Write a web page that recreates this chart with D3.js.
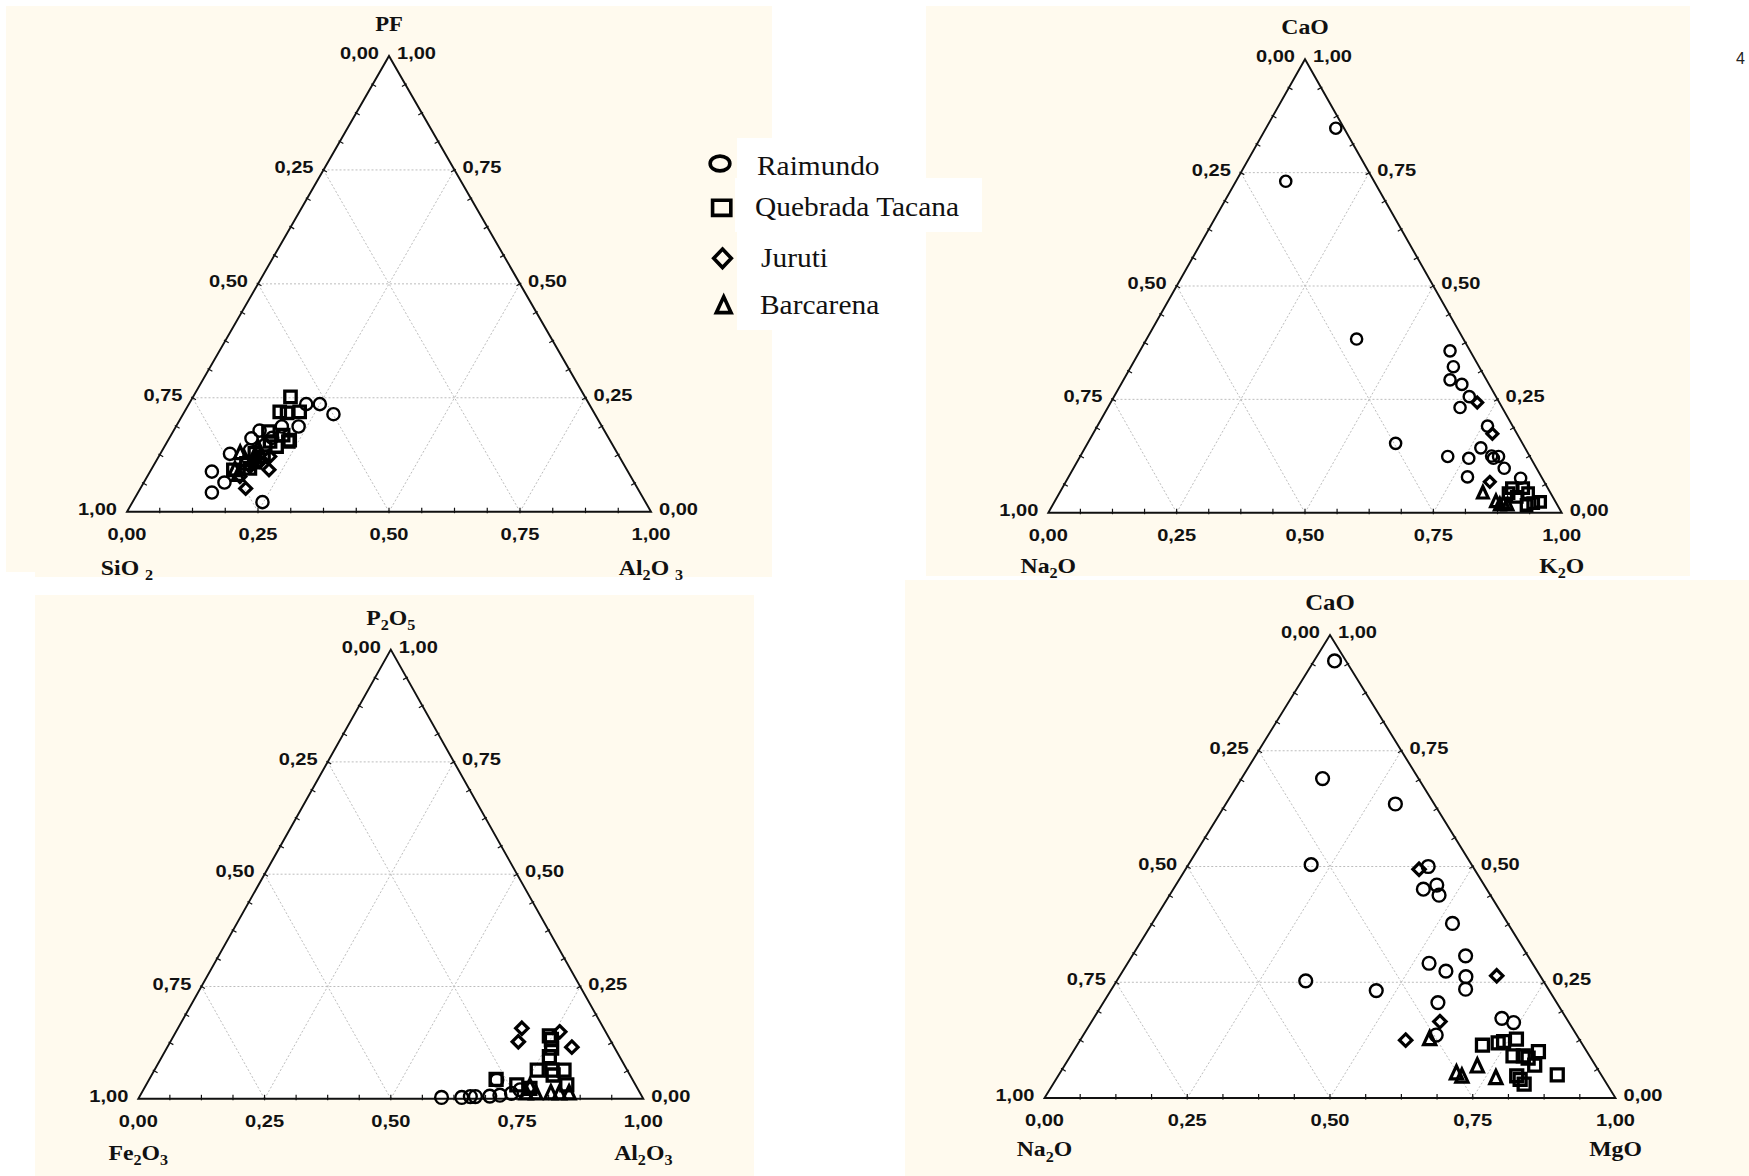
<!DOCTYPE html>
<html>
<head>
<meta charset="utf-8">
<script src="https://cdn.jsdelivr.net/npm/d3@7"></script>
<style>
  html, body { margin: 0; padding: 0; background: #ffffff; }
  svg { display: block; }
  text { white-space: pre; }
</style>
</head>
<body>
<svg id="chart" width="1749" height="1176"></svg>
<script>
// Series shown in every ternary diagram
const seriesNames = ["Raimundo", "Quebrada Tacana", "Juruti", "Barcarena"];
const tickValues = [0, 0.25, 0.5, 0.75, 1];
const gridValues = [0.25, 0.5, 0.75];

// Compositions are [left corner, right corner, top corner] fractions.

// Diagram A: SiO2 – Al2O3 – PF
const aRaimundo = [[.540,.224,.236],[.514,.250,.236],[.499,.287,.214],[.579,.234,.187],[.611,.202,.187],
  [.658,.164,.178],[.682,.157,.161],[.740,.133,.127],[.794,.118,.088],[.782,.154,.064],[.817,.141,.042],
  [.731,.248,.021],[.698,.167,.135],[.664,.190,.146],[.642,.196,.162]];
const aTacana = [[.562,.186,.252],[.599,.182,.219],[.586,.197,.217],[.561,.220,.219],[.642,.182,.176],
  [.611,.232,.157],[.615,.231,.154],[.718,.187,.095],[.751,.157,.092],[.643,.214,.143],[.679,.200,.121],
  [.701,.190,.109],[.650,.196,.154],[.618,.214,.168],[.692,.180,.128],[.719,.175,.106]];
const aJuruti = [[.683,.225,.092],[.748,.201,.051],[.746,.177,.077],[.667,.212,.121],[.716,.185,.099],[.691,.199,.110]];
const aBarcarena = [[.720,.152,.128],[.748,.160,.092],[.748,.172,.080],[.695,.184,.121],[.718,.169,.113],[.680,.181,.139]];

// Diagram B: Na2O – K2O – CaO
const bRaimundo = [[.016,.136,.848],[.172,.097,.731],[.208,.409,.383],[.247,.600,.153],[.039,.604,.357],
  [.050,.628,.322],[.071,.636,.293],[.053,.664,.283],[.052,.692,.256],[.082,.686,.232],[.049,.760,.191],
  [.086,.771,.143],[.160,.716,.124],[.121,.759,.120],[.074,.801,.125],[.061,.815,.124],[.073,.807,.120],
  [.063,.839,.098],[.144,.777,.079],[.042,.882,.076]];
const bTacana = [[.070,.876,.054],[.048,.898,.054],[.044,.913,.043],[.070,.895,.035],[.030,.946,.024],
  [.045,.934,.021],[.060,.923,.017],[.082,.875,.043]];
const bJuruti = [[.043,.714,.243],[.048,.778,.174],[.106,.826,.068]];
const bBarcarena = [[.132,.825,.043],[.116,.860,.024],[.103,.876,.021],[.097,.886,.017],[.112,.871,.017]];

// Diagram C: Fe2O3 – Al2O3 – P2O5
const cRaimundo = [[.398,.599,.003],[.358,.639,.003],[.340,.655,.005],[.330,.665,.005],[.301,.693,.006],
  [.280,.712,.008],[.255,.733,.012],[.234,.746,.020],[.269,.689,.042]];
const cTacana = [[.270,.687,.043],[.235,.734,.031],[.178,.758,.064],[.149,.787,.064],[.125,.811,.064],
  [.139,.767,.094],[.116,.752,.132],[.116,.744,.140],[.213,.764,.023],[.136,.833,.031],[.152,.795,.053],
  [.125,.762,.113]];
const cJuruti = [[.162,.681,.157],[.184,.689,.127],[.091,.760,.149],[.084,.801,.115]];
const cBarcarena = [[.226,.762,.012],[.207,.781,.012],[.177,.811,.012],[.160,.828,.012],[.141,.847,.012],[.211,.762,.027]];

// Diagram D: Na2O – MgO – CaO
const dRaimundo = [[.020,.036,.944],[.168,.142,.690],[.068,.297,.635],[.281,.215,.504],[.078,.422,.500],
  [.416,.331,.253],[.303,.465,.232],[.111,.438,.451],[.083,.457,.460],[.090,.472,.438],[.097,.526,.377],
  [.109,.584,.307],[.181,.528,.291],[.160,.566,.274],[.131,.607,.262],[.145,.620,.235],[.208,.586,.206],
  [.246,.618,.136],[.113,.715,.172],[.097,.740,.163]];
const dTacana = [[.176,.710,.114],[.146,.735,.119],[.135,.743,.122],[.110,.763,.127],[.134,.775,.091],
  [.116,.793,.091],[.085,.815,.100],[.106,.823,.071],[.149,.803,.048],[.147,.813,.040],[.145,.825,.030],
  [.077,.873,.050],[.110,.804,.086]];
const dJuruti = [[.097,.409,.494],[.076,.660,.264],[.225,.610,.165],[.305,.570,.125]];
const dBarcarena = [[.262,.611,.127],[.208,.724,.068],[.252,.695,.053],[.246,.708,.046],[.188,.769,.043]];

const cream = "#fffaee";
const svg = d3.select("#chart");

// Marker geometry (size = half extent in px)
const symCircle = { draw(ctx, r) { ctx.moveTo(r, 0); ctx.arc(0, 0, r, 0, 2 * Math.PI); } };
const symSquare = { draw(ctx, r) { ctx.rect(-r, -r, 2 * r, 2 * r); } };
const symDiamond = { draw(ctx, r) { ctx.moveTo(0, -r); ctx.lineTo(r, 0); ctx.lineTo(0, r); ctx.lineTo(-r, 0); ctx.closePath(); } };
const symTriangle = { draw(ctx, r) { ctx.moveTo(0, -r * 1.25); ctx.lineTo(r, r * 0.9); ctx.lineTo(-r, r * 0.9); ctx.closePath(); } };

const markerStyle = {
  "Raimundo":        { type: symCircle,   size: 6.1, sw: 2.4 },
  "Quebrada Tacana": { type: symSquare,   size: 5.7, sw: 3.3 },
  "Juruti":          { type: symDiamond,  size: 5.9, sw: 3.2 },
  "Barcarena":       { type: symTriangle, size: 5.8, sw: 3.2 }
};
const drawOrder = ["Raimundo", "Juruti", "Quebrada Tacana", "Barcarena"];

const locale = d3.formatLocale({ decimal: ",", thousands: ".", grouping: [3], currency: ["", ""] });
const fmt = locale.format(".2f");

const panels = [
  { titles: { top: "PF", left: "SiO _2", right: "Al_2O _3" }, topSize: 21,
    data: { "Raimundo": aRaimundo, "Quebrada Tacana": aTacana, "Juruti": aJuruti, "Barcarena": aBarcarena },
    x0: 127, x1: 651, yBase: 511.7, yTop: 56, bg: [6, 6, 766, 571], titleGap: 63, scale: 1 },
  { titles: { top: "CaO", left: "Na_2O", right: "K_2O" }, topSize: 22,
    data: { "Raimundo": bRaimundo, "Quebrada Tacana": bTacana, "Juruti": bJuruti, "Barcarena": bBarcarena },
    x0: 1048.3, x1: 1561.7, yBase: 512.7, yTop: 59.3, bg: [926, 6, 764, 570], titleGap: 60, scale: 0.92 },
  { titles: { top: "P_2O_5", left: "Fe_2O_3", right: "Al_2O_3" }, topSize: 22,
    data: { "Raimundo": cRaimundo, "Quebrada Tacana": cTacana, "Juruti": cJuruti, "Barcarena": cBarcarena },
    x0: 138.3, x1: 643.3, yBase: 1098.8, yTop: 649.6, bg: [35, 595, 719, 581], titleGap: 61, scale: 1.05 },
  { titles: { top: "CaO", left: "Na_2O", right: "MgO" }, topSize: 23,
    data: { "Raimundo": dRaimundo, "Quebrada Tacana": dTacana, "Juruti": dJuruti, "Barcarena": dBarcarena },
    x0: 1044.5, x1: 1615.5, yBase: 1098, yTop: 635, bg: [905, 580, 844, 596], titleGap: 58, scale: 1.05 }
];

// Backgrounds first so no panel covers another's content
panels.forEach(p => {
  svg.append("rect").attr("x", p.bg[0]).attr("y", p.bg[1]).attr("width", p.bg[2]).attr("height", p.bg[3]).attr("fill", cream);
});
svg.append("rect").attr("x", 0).attr("y", 572).attr("width", 35).attr("height", 23).attr("fill", "#fff");

// Chemical formula with subscripts: "_" marks the next character as subscript
function formulaText(g, x, y, spec, size) {
  const runs = [];
  for (let i = 0; i < spec.length; i++) {
    if (spec[i] === "_") { runs.push({ t: spec[i + 1], sub: true }); i++; }
    else if (runs.length && !runs[runs.length - 1].sub) runs[runs.length - 1].t += spec[i];
    else runs.push({ t: spec[i], sub: false });
  }
  const text = g.append("text").attr("transform", `translate(${x},${y}) scale(1.08,1)`)
    .attr("text-anchor", "middle")
    .attr("font-family", "'Liberation Serif','Times New Roman',serif").attr("font-weight", "bold")
    .attr("font-size", size).attr("fill", "#111");
  let down = false;
  runs.forEach(r => {
    const ts = text.append("tspan").text(r.t);
    if (r.sub) { ts.attr("font-size", size * 0.68); if (!down) { ts.attr("dy", size * 0.25); down = true; } }
    else if (down) { ts.attr("dy", -size * 0.25); down = false; }
  });
}

const labelFont = "'Liberation Sans',Arial,sans-serif";

function tickLabel(g, x, y, anchor, str) {
  g.append("text").attr("transform", `translate(${x},${y}) scale(1.18,1)`)
    .attr("text-anchor", anchor).text(str);
}

panels.forEach(p => {
  const g = svg.append("g");
  const xs = d3.scaleLinear().domain([0, 1]).range([p.x0, p.x1]);
  const ys = d3.scaleLinear().domain([0, 1]).range([p.yBase, p.yTop]);
  // ternary (right fraction r, top fraction t) -> screen
  const pt = (r, t) => [xs(r + t / 2), ys(t)];
  const project = d => { const s = d[0] + d[1] + d[2]; return pt(d[1] / s, d[2] / s); };
  const line = d3.line();

  const corners = [pt(0, 0), pt(1, 0), pt(0, 1)];
  g.append("path").attr("d", line(corners) + "Z").attr("fill", "#fff");

  // grid
  const grid = [];
  gridValues.forEach(v => {
    grid.push([pt(0, v), pt(1 - v, v)]);
    grid.push([pt(v, 0), pt(v, 1 - v)]);
    grid.push([pt(1 - v, 0), pt(0, 1 - v)]);
  });
  g.selectAll(null).data(grid).join("path").attr("d", d => line(d))
    .attr("fill", "none").attr("stroke", "#bdbdbd").attr("stroke-width", 1).attr("stroke-dasharray", "2,2");

  // minor ticks along the edges
  const cx = (corners[0][0] + corners[1][0] + corners[2][0]) / 3;
  const cy = (corners[0][1] + corners[1][1] + corners[2][1]) / 3;
  const edgeNormal = (a, b) => {
    let nx = -(b[1] - a[1]), ny = b[0] - a[0];
    const L = Math.hypot(nx, ny); nx /= L; ny /= L;
    const mx = (a[0] + b[0]) / 2, my = (a[1] + b[1]) / 2;
    if ((cx - mx) * nx + (cy - my) * ny < 0) { nx = -nx; ny = -ny; }
    return [nx, ny];
  };
  const nL = edgeNormal(corners[0], corners[2]);
  const nR = edgeNormal(corners[1], corners[2]);
  const tickPts = [];
  d3.range(1, 16).forEach(i => {
    const f = i / 16;
    tickPts.push({ p: pt(f, 0), n: [0, -1] });
    tickPts.push({ p: pt(0, f), n: nL });
    tickPts.push({ p: pt(1 - f, f), n: nR });
  });
  g.selectAll(null).data(tickPts).join("line")
    .attr("x1", d => d.p[0] - d.n[0] * 1.5).attr("y1", d => d.p[1] - d.n[1] * 1.5)
    .attr("x2", d => d.p[0] + d.n[0] * 4).attr("y2", d => d.p[1] + d.n[1] * 4)
    .attr("stroke", "#111").attr("stroke-width", 1.2);

  g.append("path").attr("d", line(corners) + "Z").attr("fill", "none")
    .attr("stroke", "#111").attr("stroke-width", 1.9).attr("stroke-linejoin", "miter");

  // tick labels
  const lab = g.append("g").attr("font-family", labelFont).attr("font-weight", "bold")
    .attr("font-size", 17).attr("fill", "#111");
  tickValues.forEach(v => {
    const b = pt(v, 0);
    tickLabel(lab, b[0], b[1] + 28, "middle", fmt(v));
    const l = pt(0, v);
    tickLabel(lab, l[0] - 10, l[1] + 3, "end", fmt(1 - v));
    const r = pt(1 - v, v);
    tickLabel(lab, r[0] + 8, r[1] + 3, "start", fmt(v));
  });

  // corner titles
  formulaText(g, corners[2][0], corners[2][1] - 25, p.titles.top, p.topSize);
  formulaText(g, corners[0][0], corners[0][1] + p.titleGap, p.titles.left, 22);
  formulaText(g, corners[1][0], corners[1][1] + p.titleGap, p.titles.right, 22);

  // data markers
  drawOrder.forEach(name => {
    const st = markerStyle[name];
    const sym = d3.symbol().type(st.type).size(st.size * p.scale);
    g.append("g").selectAll("path").data(p.data[name]).join("path")
      .attr("transform", d => { const q = project(d); return `translate(${q[0]},${q[1]})`; })
      .attr("d", sym).attr("fill", "none").attr("stroke", "#000").attr("stroke-width", st.sw)
      .attr("stroke-linejoin", "miter");
  });
});

// Legend
const legend = svg.append("g");
legend.append("rect").attr("x", 737).attr("y", 138).attr("width", 188).attr("height", 192).attr("fill", "#fff");
legend.append("rect").attr("x", 735).attr("y", 178).attr("width", 247).attr("height", 54).attr("fill", "#fff");
const legendRows = [
  { name: seriesNames[0], mx: 720, my: 163.5, tx: 757, ty: 175, sx: 1.33, sy: 1.0, r: 7.4 },
  { name: seriesNames[1], mx: 721.7, my: 207.8, tx: 755, ty: 216, sx: 1.2, sy: 1.0, r: 7.6 },
  { name: seriesNames[2], mx: 722.5, my: 258.3, tx: 761, ty: 266.7, sx: 1.0, sy: 1.05, r: 8.8 },
  { name: seriesNames[3], mx: 723.7, my: 306, tx: 760, ty: 314.3, sx: 1.0, sy: 1.0, r: 7.4 }
];
legendRows.forEach(row => {
  const st = markerStyle[row.name];
  legend.append("path")
    .attr("transform", `translate(${row.mx},${row.my}) scale(${row.sx},${row.sy})`)
    .attr("d", d3.symbol().type(st.type).size(row.r)).attr("fill", "none")
    .attr("stroke", "#000").attr("stroke-width", 3.6).attr("vector-effect", "non-scaling-stroke");
  legend.append("text").attr("transform", `translate(${row.tx},${row.ty}) scale(1.07,1)`)
    .attr("font-family", "'Liberation Serif','Times New Roman',serif").attr("font-size", 27.5)
    .attr("fill", "#111").text(row.name);
});

// figure number at the page edge
svg.append("text").attr("x", 1736).attr("y", 64).attr("font-family", "'Liberation Sans',Arial,sans-serif")
  .attr("font-size", 16).attr("fill", "#222").text("4");
</script>
</body>
</html>
